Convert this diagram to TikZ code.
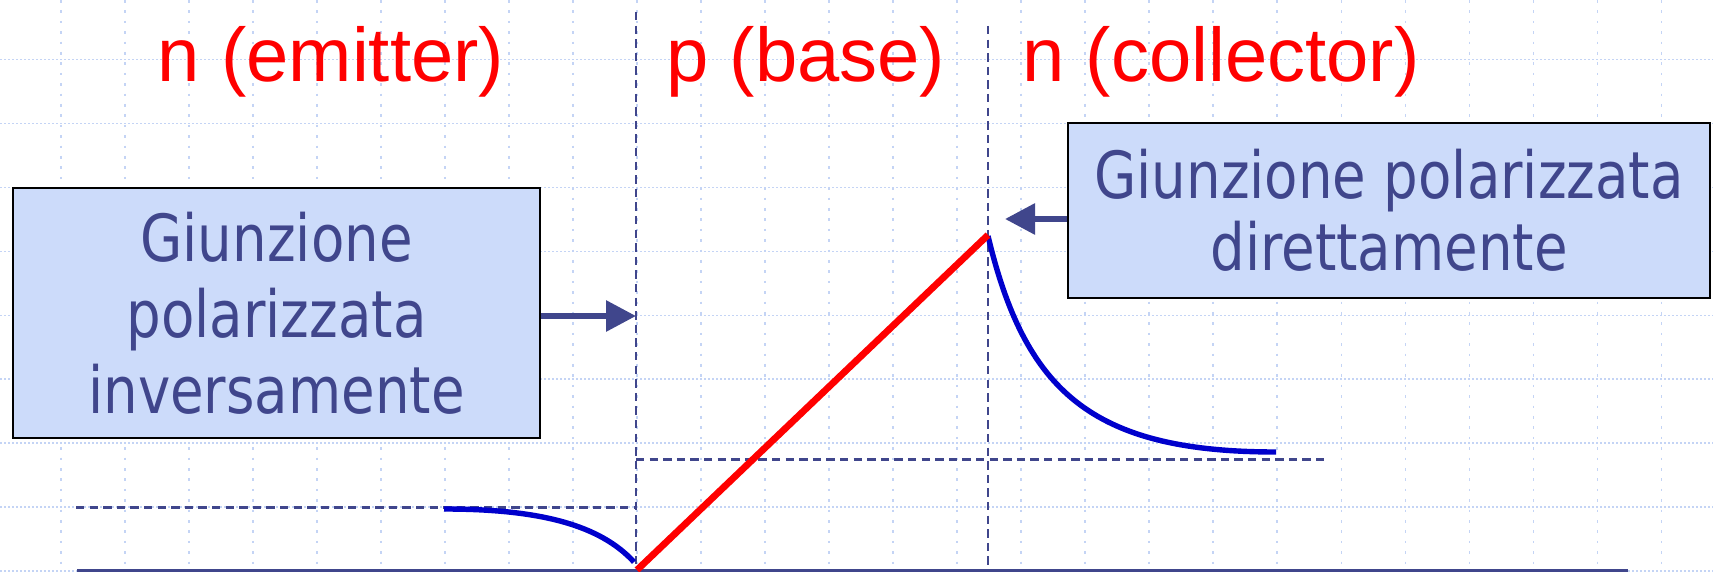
\documentclass[tikz,border=0pt]{standalone}
\usepackage{fontspec}
\setmainfont{Liberation Sans}
\newfontfamily\boxfont[FakeStretch=0.84]{DejaVu Sans}
\usetikzlibrary{arrows.meta}
\definecolor{navy}{RGB}{64,70,140}
\definecolor{boxfill}{RGB}{204,219,250}
\definecolor{gridc}{RGB}{196,212,245}
\definecolor{curveblue}{RGB}{0,0,204}
\begin{document}
\begin{tikzpicture}[x=0.5pt,y=-0.5pt,
  gridv/.style={gridc,line width=0.8pt,dash pattern=on 1.3pt off 3.9pt},
  gridh/.style={gridc,line width=0.8pt,dash pattern=on 1pt off 1pt},
  guideline/.style={navy,line width=1.3pt,dash pattern=on 4.2pt off 2.6pt},
  axisline/.style={navy,line width=1.4pt},
  bluecurve/.style={curveblue,line width=2.7pt},
  redline/.style={red,line width=3.4pt},
  infobox/.style={draw=black,line width=1pt,fill=boxfill,inner sep=0pt,text=navy,align=center},
  regionlabel/.style={text=red,inner sep=0pt,anchor=base,font={\fontsize{38pt}{44pt}\selectfont}},
  arr/.style={navy,line width=3pt,-{Triangle[length=15pt,width=15pt]}}
]
\useasboundingbox (0,0) rectangle (1713,572);
\fill[white] (0,0) rectangle (1713,572);
% grid
\foreach \i in {0,...,25} \draw[gridv] ({60.7+64.03*\i},0) -- ++(0,572);
\foreach \j in {0,...,8} \draw[gridh] (0,{59.7+63.9*\j}) -- ++(1713,0);
% guide lines
\draw[guideline] (636,12) -- (636,570);
\draw[guideline] (988,26) -- (988,570);
\draw[guideline] (76,507.7) -- (636,507.7);
\draw[guideline] (636,459.3) -- (1325,459.3);
% axis
\draw[axisline] (77,570.5) -- (1628,570.5);
% curves
\draw[bluecurve] (444,509) .. controls (540,509) and (600,525) .. (634,562);
\draw[bluecurve] (988,236) .. controls (1025,390) and (1090,452) .. (1276,452);
\draw[redline] (637,570) -- (988,235);
% labels
\node[regionlabel] (em) at (331,81.5) {n (emitter)};
\node[regionlabel] (ba) at (806,81.5) {p (base)};
\node[regionlabel] (co) at (1221,81.5) {n (collector)};
% boxes
\node[infobox,minimum width=263.5pt,minimum height=125pt,font={\boxfont\fontsize{32.5pt}{38.1pt}\selectfont}] (lbox) at (276.5,313) {Giunzione\\polarizzata\\inversamente};
\node[infobox,minimum width=321pt,minimum height=87.5pt,font={\boxfont\fontsize{32.5pt}{36.25pt}\selectfont}] (rbox) at (1389,210.5) {Giunzione polarizzata\\direttamente};
% arrows
\coordinate (ltip) at (636,316);
\coordinate (rtip) at (1005,219);
\draw[arr] (lbox.east |- ltip) -- (ltip);
\draw[arr] (rbox.west |- rtip) -- (rtip);
\end{tikzpicture}
\end{document}
